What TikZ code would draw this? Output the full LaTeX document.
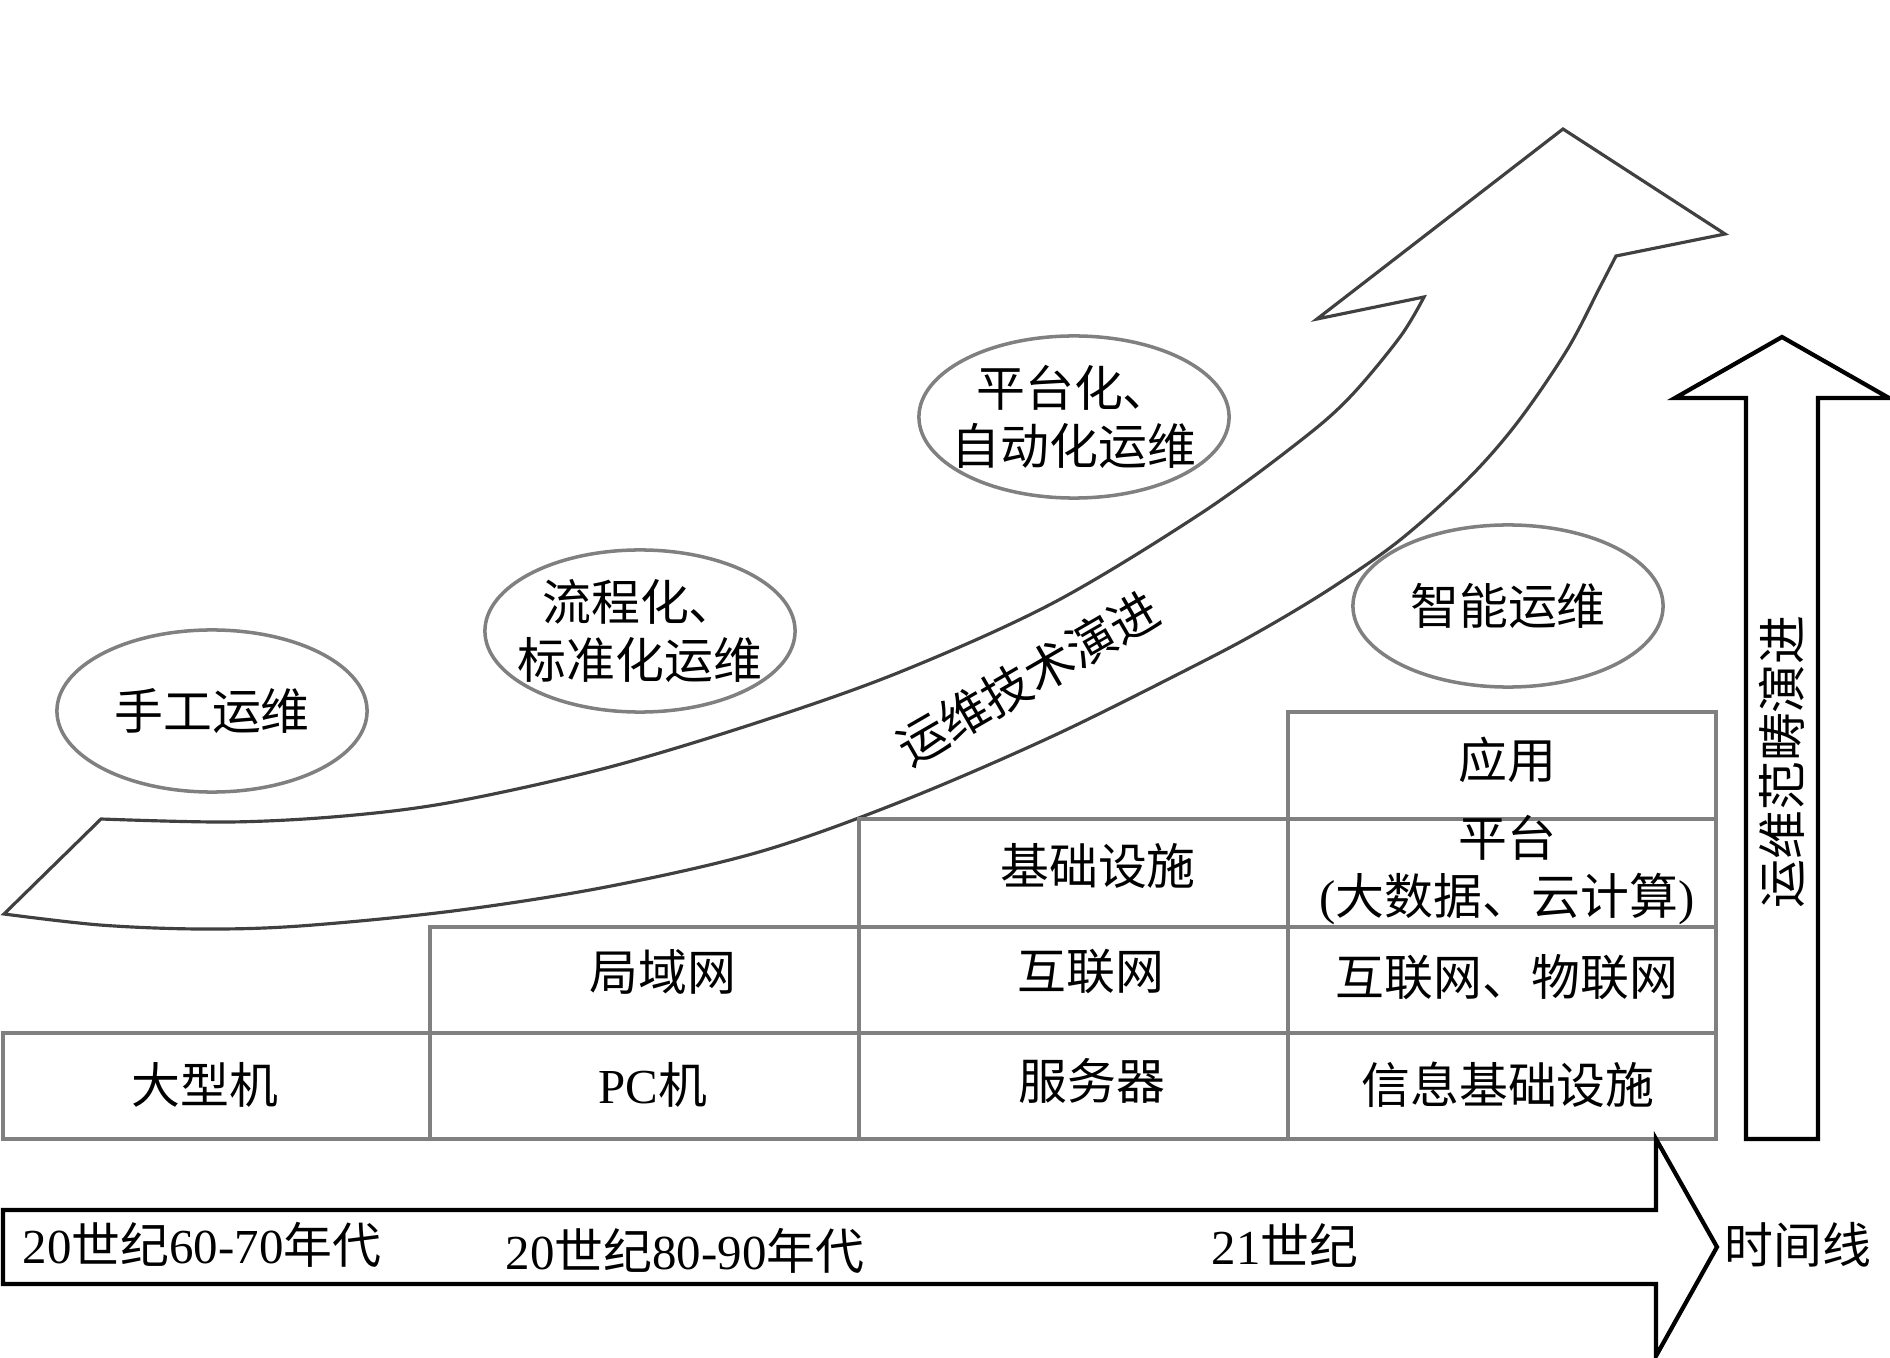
\documentclass[tikz,border=0pt]{standalone}
\definecolor{mGridGray}{HTML}{808080}
\definecolor{mCurveGray}{HTML}{404040}
\usepackage{fontspec}
\setmainfont{Noto Sans CJK SC}
\newfontfamily\romanfont{Liberation Serif}
\newcommand{\rmtxt}[1]{{\romanfont #1}}
\usepackage{tikz}
\usetikzlibrary{shapes.geometric}

\begin{document}
\begin{tikzpicture}[x=0.01cm, y=-0.01cm, font=\fontsize{13.9}{16.5}\selectfont,
  gridline/.style={draw=mGridGray, line width=1pt},
  blackline/.style={draw=black, line width=1.2pt, line join=miter},
  cell/.style={inner sep=0pt, align=center},
  oval/.style={draw=mGridGray, line width=1pt, ellipse, minimum width=3.1cm, minimum height=1.62cm, inner sep=-6mm, align=center}]
\useasboundingbox (0,0) rectangle (1890,1358);
% curved arrow
\draw[draw=mCurveGray, line width=0.9pt, fill=white]
  plot[smooth, tension=0.55] coordinates {(101,819) (230,822) (344,816) (453,802) (606,768) (759,722) (900,672) (1053,603) (1200,514) (1300,441) (1350,397) (1400,337) (1424,297)}
  -- (1317,319) -- (1563,129) -- (1725,234) -- (1616,256)
  -- plot[smooth, tension=0.55] coordinates {(1616,256) (1600,287) (1567,350) (1517,423) (1467,480) (1400,540) (1333,587) (1267,627) (1200,663) (1053,736) (900,802) (759,852) (606,887) (453,911) (300,926) (200,929) (100,925) (4,914)}
  -- cycle;
\node[cell, rotate=30] (tech) at (1028,678) {运维技术演进};
% stages
\node[oval] (manual) at (212,711) {手工运维};
\node[oval] (process) at (640,631) {流程化、\\标准化运维};
\node[oval] (platform) at (1074,417) {平台化、\\自动化运维};
\node[oval] (smart) at (1508,606) {智能运维};
% grid
\foreach \xa/\xb in {3/430, 430/859, 859/1288, 1288/1716} \draw[gridline] (\xa,1033) rectangle (\xb,1139);
\foreach \xa/\xb in {430/859, 859/1288, 1288/1716} \draw[gridline] (\xa,927) rectangle (\xb,1033);
\foreach \xa/\xb in {859/1288, 1288/1716} \draw[gridline] (\xa,819) rectangle (\xb,927);
\draw[gridline] (1288,712) rectangle (1716,819);
\node[cell] (mainframe) at (205,1085) {大型机};
\node[cell] (pc) at (653,1085) {\rmtxt{PC}机};
\node[cell] (server) at (1092,1081) {服务器};
\node[cell] (infra) at (1508,1085) {信息基础设施};
\node[cell] (lan) at (663,972) {局域网};
\node[cell] (inet) at (1091,972) {互联网};
\node[cell] (iot) at (1507,977) {互联网、物联网};
\node[cell] (base) at (1098,866) {基础设施};
\node[cell] (plat) at (1507,870) {平台\\\rmtxt{(}大数据、云计算\rmtxt{)}};
\node[cell] (app) at (1507,760) {应用};
% time line
\draw[blackline] (3,1210) -- (1656,1210) -- (1656,1139) -- (1717,1247) -- (1656,1356) -- (1656,1284) -- (3,1284) -- cycle;
\node[cell] (t1) at (202,1245) {\rmtxt{20}世纪\rmtxt{60-70}年代};
\node[cell] (t2) at (685,1251) {\rmtxt{20}世纪\rmtxt{80-90}年代};
\node[cell] (t3) at (1285,1245) {\rmtxt{21}世纪};
\node[cell] (tline) at (1798,1245) {时间线};
% scope arrow
\draw[blackline] (1746,1139) -- (1746,398) -- (1675,398) -- (1782,337) -- (1889,398) -- (1818,398) -- (1818,1139) -- cycle;
\node[cell, rotate=90] (scope) at (1782,762) {运维范畴演进};
\end{tikzpicture}
\end{document}
